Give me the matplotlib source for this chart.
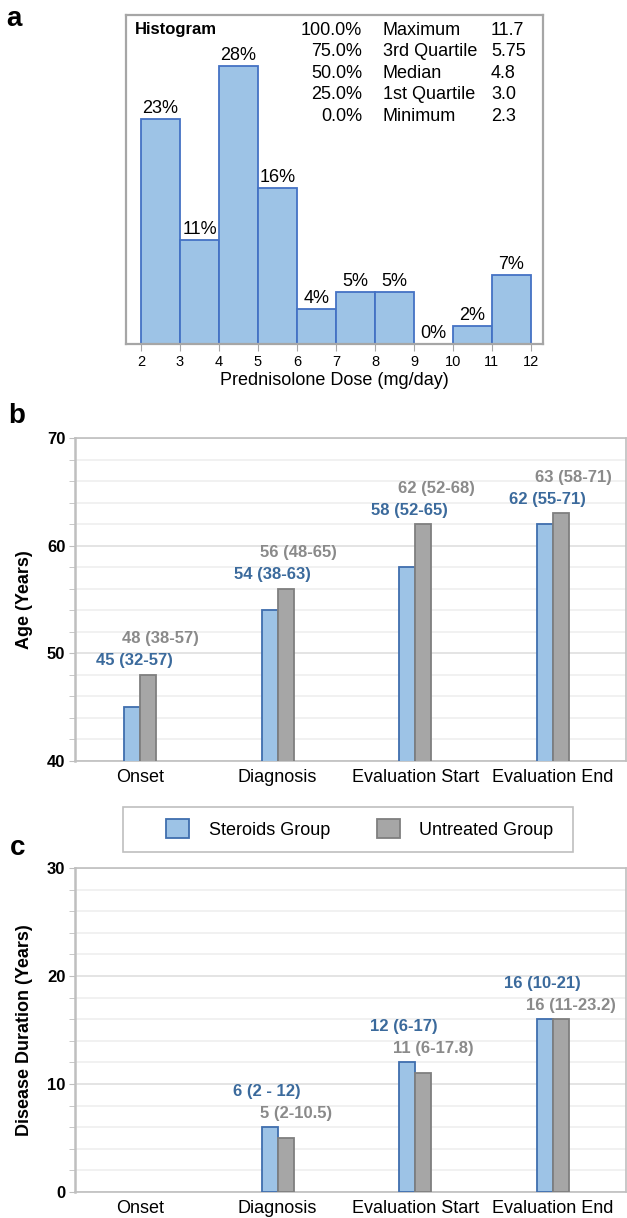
import matplotlib
matplotlib.use('Agg')
from matplotlib import pyplot as plt
from matplotlib.patches import Patch, Rectangle
from matplotlib.ticker import MultipleLocator

plt.rcParams['font.family'] = ['Liberation Sans', 'DejaVu Sans']

# panel a : histogram of prednisolone dose
bin_left = [2, 3, 4, 5, 6, 7, 8, 9, 10, 11]
bin_pct = [22.8, 10.5, 28.1, 15.8, 3.5, 5.3, 5.3, 0.0, 1.8, 7.0]
bin_lbl = ['23%', '11%', '28%', '16%', '4%', '5%', '5%', '0%', '2%', '7%']
q_pct = ['100.0%', '75.0%', '50.0%', '25.0%', '0.0%']
q_name = ['Maximum', '3rd Quartile', 'Median', '1st Quartile', 'Minimum']
q_val = ['11.7', '5.75', '4.8', '3.0', '2.3']

# panels b and c
stages = ['Onset', 'Diagnosis', 'Evaluation Start', 'Evaluation End']
age_ster = [45, 54, 58, 62]
age_untr = [48, 56, 62, 63]
age_ster_lbl = ['45 (32-57)', '54 (38-63)', '58 (52-65)', '62 (55-71)']
age_untr_lbl = ['48 (38-57)', '56 (48-65)', '62 (52-68)', '63 (58-71)']
dur_ster = [0, 6, 12, 16]
dur_untr = [0, 5, 11, 16]
dur_ster_lbl = ['', '6 (2 - 12)', '12 (6-17)', '16 (10-21)']
dur_untr_lbl = ['', '5 (2-10.5)', '11 (6-17.8)', '16 (11-23.2)']

blue_fill = '#9DC3E6'
blue_edge = '#3F6EAE'
grey_fill = '#A6A6A6'
grey_edge = '#7F7F7F'
blue_txt = '#3B6A9C'
grey_txt = '#8A8A8A'
frame_col = '#BFBFBF'

W, H = 627, 1218
fig = plt.figure(figsize=(W / 100, H / 100), dpi=100)

def box(l, t, r, b):
    return [l / W, 1 - b / H, (r - l) / W, (b - t) / H]

# ---------------- panel a
ax = fig.add_axes(box(126, 15, 543, 344))
ax.bar(bin_left, bin_pct, width=1, align='edge', color=blue_fill, edgecolor='#4472C4', linewidth=1.3)
for x, p, s in zip(bin_left, bin_pct, bin_lbl):
    ax.annotate(s, (x + 0.5, p), xytext=(0, 1.5), textcoords='offset points',
                ha='center', va='bottom', fontsize=13)
ax.set_xlim(1.615, 12.31)
ax.set_ylim(0, 33.3)
ax.set_yticks([])
ax.set_xticks(range(2, 13))
ax.tick_params(axis='x', labelsize=10.5, length=5, color='#A6A6A6', pad=3)
for s in ax.spines.values():
    s.set_color('#A6A6A6')
    s.set_linewidth(1.6)
ax.set_xlabel('Prednisolone Dose (mg/day)', fontsize=13, labelpad=2)
ax.text(0.022, 0.955, 'Histogram', transform=ax.transAxes, fontsize=12, fontweight='bold', va='center')
rows_y = [0.952, 0.888, 0.823, 0.757, 0.691]
for y, a, b, c in zip(rows_y, q_pct, q_name, q_val):
    ax.text(0.566, y, a, transform=ax.transAxes, fontsize=13, ha='right', va='center')
    ax.text(0.616, y, b, transform=ax.transAxes, fontsize=13, ha='left', va='center')
    ax.text(0.875, y, c, transform=ax.transAxes, fontsize=13, ha='left', va='center')

# ---------------- panels b and c
def grouped(ax, ster, untr, s_lbl, u_lbl, ylim, ylabel, upper, dx_s, dx_u):
    xs = list(range(len(stages)))
    w = 0.116
    bs = ax.bar([x - w / 2 for x in xs], ster, width=w, color=blue_fill, edgecolor=blue_edge, linewidth=1.3, zorder=3)
    bu = ax.bar([x + w / 2 for x in xs], untr, width=w, color=grey_fill, edgecolor=grey_edge, linewidth=1.3, zorder=3)
    # empty bars leave no outline
    for r in list(bs) + list(bu):
        if r.get_height() == 0:
            r.set_edgecolor('none')
    for x, a, b, ls, lu in zip(xs, ster, untr, s_lbl, u_lbl):
        top = max(a, b)
        off_s, off_u = (10, 26) if upper == 'untr' else (26, 10)
        ax.annotate(ls, (x, top), xytext=(dx_s, off_s), textcoords='offset points',
                    ha='center', va='center', fontsize=12, fontweight='bold', color=blue_txt)
        ax.annotate(lu, (x, top), xytext=(dx_u, off_u), textcoords='offset points',
                    ha='center', va='center', fontsize=12, fontweight='bold', color=grey_txt)
    ax.set_xlim(-0.472, 3.53)
    ax.set_ylim(*ylim)
    ax.yaxis.set_major_locator(MultipleLocator(10))
    ax.yaxis.set_minor_locator(MultipleLocator(2))
    ax.grid(which='major', axis='y', color='#DCDCDC', linewidth=1.1, zorder=0)
    ax.grid(which='minor', axis='y', color='#EEEEEE', linewidth=1.1, zorder=0)
    ax.set_axisbelow(True)
    ax.set_xticks(xs)
    ax.set_xticklabels(stages, fontsize=13)
    ax.tick_params(axis='x', length=0, pad=6)
    ax.tick_params(axis='y', which='both', length=4, color=frame_col, labelsize=12, pad=3)
    for t in ax.get_yticklabels():
        t.set_fontweight('bold')
    for s in ax.spines.values():
        s.set_color(frame_col)
        s.set_linewidth(1.2)
    ax.spines['left'].set_linewidth(1.8)
    ax.set_ylabel(ylabel, fontsize=13, fontweight='bold', labelpad=10)

axb = fig.add_axes(box(75, 438, 626, 761))
grouped(axb, age_ster, age_untr, age_ster_lbl, age_untr_lbl, (40, 70), 'Age (Years)', 'untr', -4, 15)

axc = fig.add_axes(box(75, 868, 626, 1192))
grouped(axc, dur_ster, dur_untr, dur_ster_lbl, dur_untr_lbl, (0, 30), 'Disease Duration (Years)', 'ster', -8, 13)

# legend between b and c
fig.patches.append(Rectangle((123 / W, 1 - 852 / H), 450 / W, 45 / H, transform=fig.transFigure,
                             facecolor='white', edgecolor=frame_col, linewidth=1.2))
handles = [Patch(facecolor=blue_fill, edgecolor=blue_edge, linewidth=1.3, label='Steroids Group'),
           Patch(facecolor=grey_fill, edgecolor=grey_edge, linewidth=1.3, label='Untreated Group')]
fig.legend(handles=handles, loc='center', bbox_to_anchor=(360 / W, 1 - 829 / H), ncol=2, frameon=False,
           fontsize=13, handlelength=1.25, handleheight=1.25, handletextpad=1.1, columnspacing=2.6)

fig.text(14 / W, 1 - 19 / H, 'a', fontsize=20, fontweight='bold', ha='center', va='center')
fig.text(17 / W, 1 - 416 / H, 'b', fontsize=20, fontweight='bold', ha='center', va='center')
fig.text(18 / W, 1 - 855 / H, 'c', fontsize=20, fontweight='bold', ha='center', va='baseline')

fig.savefig('out.png', dpi=100)
